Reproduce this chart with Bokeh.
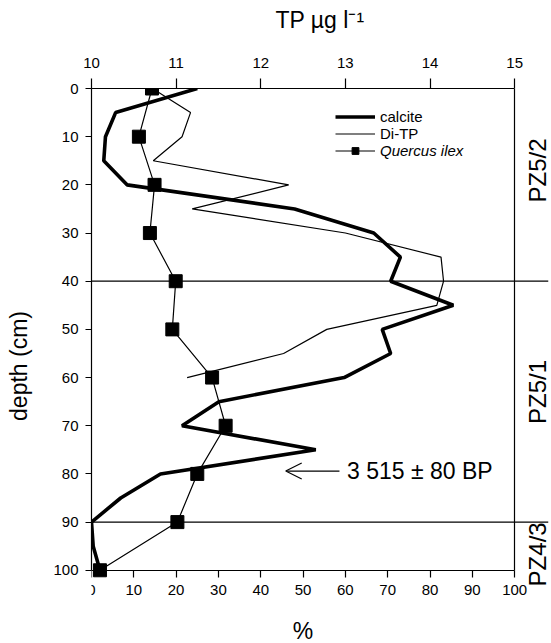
import math
from bokeh.plotting import figure
from bokeh.models import (Range1d, LinearAxis, Span, Label, Arrow, OpenHead,
                          Legend, LegendItem, FixedTicker)
from bokeh.embed import file_html
from bokeh.resources import INLINE

# ---- data ----
depth_calcite = [0, 5, 10, 15, 20, 25, 30, 35, 40, 45, 50, 55, 60, 65, 70, 75, 80, 85, 90, 95, 100]
calcite_pct = [25.0, 5.7, 3.3, 2.9, 8.4, 48.0, 66.7, 73.0, 70.7, 85.5, 68.7, 70.7, 59.7, 30.1,
               21.4, 53.0, 16.3, 6.9, 0.0, 0.4, 2.0]

depth_ditp = [0, 5, 10, 15, 20, 25, 30, 35, 40, 45, 50, 55, 60]
ditp_tp = [10.72, 11.17, 11.07, 10.73, 12.33, 11.19, 13.0, 14.13, 14.16, 14.08, 12.78, 12.27, 11.13]

depth_quercus = [0, 10, 20, 30, 40, 50, 60, 70, 80, 90, 100]
quercus_pct = [14.3, 11.2, 14.9, 13.8, 19.9, 19.1, 28.5, 31.7, 25.0, 20.3, 2.0]

pct_ticks = [0, 10, 20, 30, 40, 50, 60, 70, 80, 90, 100]
tp_ticks = [10, 11, 12, 13, 14, 15]
depth_ticks = [0, 10, 20, 30, 40, 50, 60, 70, 80, 90, 100]

zone_bounds = [40, 90]
zone_labels = ["PZ5/2", "PZ5/1", "PZ4/3"]
zone_label_depth = [17, 63, 96.7]

date_text = "3 515 \u00b1 80 BP"
date_depth = 79.4
date_arrow_from = 58.6
date_arrow_to = 45.9

FONT = "Liberation Sans"
PCT_MAX = 100
DEPTH_MAX = 100
X_END = 108.0          # frame runs past 100 % so the zone lines reach the zone labels
Y_END = 115.2          # frame runs below 100 cm so nothing under the bottom axis is clipped
TP_START = 10.0
TP_PER_PCT = 5.0 / 100.0
ZONE_LABEL_X = 105.3

p = figure(width=551, height=643, output_backend="svg", toolbar_location=None,
           x_range=Range1d(0, X_END), y_range=Range1d(Y_END, 0),
           x_axis_location=None, y_axis_location=None,
           min_border_left=91, min_border_right=3, min_border_top=88, min_border_bottom=0)
p.outline_line_color = None
p.xgrid.visible = False
p.ygrid.visible = False
p.background_fill_color = "white"
p.border_fill_color = "white"

p.extra_x_ranges = {"tp": Range1d(TP_START, TP_START + X_END * TP_PER_PCT)}


def style_axis(ax, tick_out):
    ax.axis_line_color = "black"
    ax.axis_line_width = 1.2
    ax.major_tick_line_color = "black"
    ax.major_tick_line_width = 1.2
    ax.major_tick_out = tick_out
    ax.major_tick_in = 0
    ax.minor_tick_line_color = None
    ax.major_label_text_font = FONT
    ax.major_label_text_font_size = "15px"
    ax.major_label_text_color = "black"
    ax.axis_label_text_font = FONT
    ax.axis_label_text_font_size = "23px"
    ax.axis_label_text_font_style = "normal"
    ax.axis_label_text_color = "black"


bottom = LinearAxis(axis_label="%", ticker=FixedTicker(ticks=pct_ticks),
                    bounds=(0, PCT_MAX), fixed_location=DEPTH_MAX)
style_axis(bottom, 7)
bottom.major_label_standoff = 8
bottom.axis_label_standoff = 19
p.add_layout(bottom, "below")

top = LinearAxis(axis_label="TP \u00b5g l\u207b\u00b9", x_range_name="tp",
                 ticker=FixedTicker(ticks=tp_ticks), bounds=(10, 15))
style_axis(top, 10)
top.major_label_standoff = 11
top.axis_label_standoff = 22
p.add_layout(top, "above")

left = LinearAxis(axis_label="depth (cm)", ticker=FixedTicker(ticks=depth_ticks),
                  bounds=(0, DEPTH_MAX))
style_axis(left, 6)
left.major_label_standoff = 7
left.axis_label_standoff = 18
p.add_layout(left, "left")

# right frame edge at 100 %, drawn as a bare axis line
right = LinearAxis(fixed_location=PCT_MAX, bounds=(0, DEPTH_MAX),
                   ticker=FixedTicker(ticks=[]))
right.axis_line_color = "black"
right.axis_line_width = 1.2
right.major_tick_line_color = None
right.minor_tick_line_color = None
right.major_label_text_color = None
p.add_layout(right, "right")

# zone boundaries
for zb in zone_bounds:
    p.add_layout(Span(location=zb, dimension="width", line_color="black", line_width=1.2))

r_cal = p.line(calcite_pct, depth_calcite, line_color="black", line_width=3.6)
r_dtp = p.line(ditp_tp, depth_ditp, x_range_name="tp", line_color="black", line_width=1.2)
r_ql = p.line(quercus_pct, depth_quercus, line_color="black", line_width=1.2)
r_qs = p.scatter(quercus_pct, depth_quercus, marker="square", size=13,
                 fill_color="black", line_color="black")

leg1 = Legend(items=[LegendItem(label="calcite", renderers=[r_cal]),
                     LegendItem(label="Di-TP", renderers=[r_dtp])],
              location=(244, 501), orientation="vertical")
leg2 = Legend(items=[LegendItem(label="Quercus ilex", renderers=[r_ql, r_qs])],
              location=(244, 484), orientation="vertical")
for lg, style in ((leg1, "normal"), (leg2, "italic")):
    lg.border_line_color = None
    lg.background_fill_alpha = 0
    lg.padding = 0
    lg.margin = 0
    lg.spacing = 0
    lg.glyph_width = 40
    lg.glyph_height = 17
    lg.label_height = 17
    lg.label_standoff = 5
    lg.label_text_font = FONT
    lg.label_text_font_size = "15px"
    lg.label_text_font_style = style
    lg.label_text_color = "black"
    lg.label_text_baseline = "middle"
    p.add_layout(lg)

for txt, d in zip(zone_labels, zone_label_depth):
    p.add_layout(Label(x=ZONE_LABEL_X, y=d, text=txt, angle=math.pi / 2, text_align="center",
                       text_baseline="middle", text_font=FONT, text_font_size="24px",
                       text_color="black"))

p.add_layout(Arrow(end=OpenHead(size=16, line_width=1.2, line_color="black"),
                   x_start=date_arrow_from, y_start=date_depth,
                   x_end=date_arrow_to, y_end=date_depth,
                   line_color="black", line_width=1.2))
p.add_layout(Label(x=60.4, y=date_depth, text=date_text, text_align="left",
                   text_baseline="middle", text_font=FONT, text_font_size="23px",
                   text_color="black"))

open("out.html", "w").write(file_html(p, INLINE))
